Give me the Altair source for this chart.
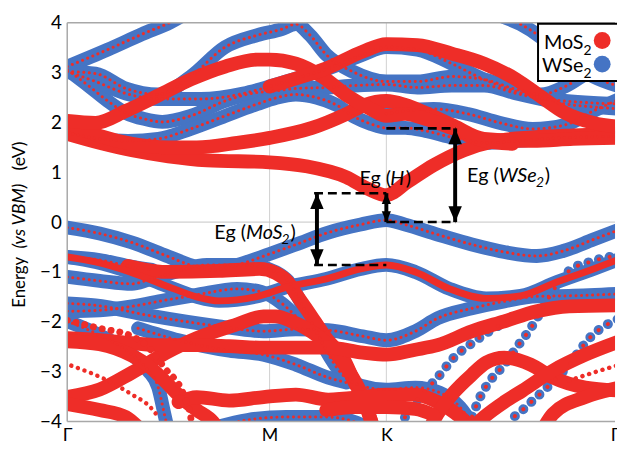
import altair as alt
import pandas as pd

RED = "#EE2D28"
BLUE = "#4574C4"
FONT = "Lato"

# k-path coordinates: Γ = 0, M = 1, K = 1.577, Γ = 2.732 (view cut at 2.707)
K_TICKS = [0.0, 1.0, 1.577, 2.707]
K_LABELS = ["Γ", "M", "K", "Γ"]
E_TICKS = [-4, -3, -2, -1, 0, 1, 2, 3, 4]
K_MAX = 2.707

# ---------------- conduction region ----------------
mos2_cb1 = [(0.00, 1.77), (0.16, 1.59), (0.32, 1.44), (0.50, 1.32), (0.69, 1.24), (1.00, 1.20), (1.18, 1.12),
            (1.38, 0.90), (1.49, 0.66), (1.577, 0.54), (1.68, 0.80), (1.81, 1.14), (1.96, 1.44), (2.11, 1.62),
            (2.30, 1.70), (2.50, 1.74), (2.73, 1.77)]
mos2_cb2 = [(0.00, 1.99), (0.16, 1.73), (0.32, 1.57), (0.50, 1.50), (0.64, 1.50), (0.84, 1.59), (1.00, 1.69),
            (1.21, 1.89), (1.38, 2.17), (1.47, 2.35), (1.577, 2.43), (1.67, 2.35), (1.77, 2.19), (1.91, 1.93),
            (2.06, 1.67), (2.30, 1.63), (2.50, 1.67), (2.73, 1.69)]
mos2_cb3 = [(0.00, 2.03), (0.14, 1.99), (0.29, 2.23), (0.45, 2.54), (0.61, 2.86), (0.78, 3.12), (0.94, 3.26),
            (1.00, 3.26), (1.13, 3.18), (1.26, 2.92), (1.39, 2.52), (1.50, 2.27), (1.577, 2.13), (1.67, 2.17),
            (1.77, 2.07), (1.91, 1.87), (2.06, 1.63), (2.20, 1.57)]
mixed_cb3b = [(1.577, 2.17), (1.67, 2.23), (1.81, 2.27), (1.98, 2.17), (2.14, 1.99), (2.30, 1.87), (2.46, 1.95),
              (2.60, 2.23), (2.73, 2.47)]
mos2_top = [(1.00, 2.72), (1.13, 2.88), (1.29, 3.10), (1.46, 3.42), (1.577, 3.57), (1.73, 3.55), (1.90, 3.38),
            (2.06, 3.18), (2.22, 2.86), (2.34, 2.52), (2.46, 2.19), (2.60, 1.99), (2.73, 1.91)]
wse2_cb1 = [(0.00, 1.79), (0.16, 1.67), (0.30, 1.63), (0.45, 1.67), (0.61, 1.87), (0.78, 2.13), (0.94, 2.37),
            (1.03, 2.49), (1.13, 2.56), (1.23, 2.50), (1.33, 2.35), (1.42, 2.11), (1.50, 1.97), (1.577, 1.89),
            (1.67, 1.89), (1.77, 1.83), (1.91, 1.69), (2.07, 1.59), (2.20, 1.62), (2.40, 1.68), (2.73, 1.72)]
wse2_u1 = [(0.00, 3.12), (0.20, 3.46), (0.37, 3.77), (0.51, 4.01), (0.64, 4.31)]
wse2_u2 = [(0.00, 3.02), (0.14, 2.98), (0.29, 2.68), (0.45, 2.56), (0.61, 2.92), (0.78, 3.51), (0.94, 3.75),
           (1.06, 3.87), (1.13, 3.97), (1.20, 3.75), (1.28, 3.36), (1.41, 3.02), (1.577, 2.82), (1.73, 2.82),
           (1.90, 2.92), (2.06, 2.86), (2.22, 2.66), (2.34, 2.56), (2.46, 2.72), (2.60, 3.06), (2.73, 3.22)]
wse2_u3 = [(0.00, 3.06), (0.11, 2.72), (0.20, 2.43), (0.29, 2.19), (0.38, 2.07), (0.47, 2.01), (0.61, 2.13),
           (0.78, 2.43), (0.94, 2.60), (1.00, 2.62), (1.13, 2.68), (1.28, 2.70), (1.42, 2.74), (1.577, 2.76),
           (1.73, 2.70), (1.90, 2.74), (2.06, 2.74), (2.22, 2.58), (2.34, 2.47), (2.46, 2.37), (2.60, 2.31),
           (2.73, 2.27)]
wse2_u4 = [(0.00, 3.02), (0.14, 2.82), (0.29, 2.58), (0.45, 2.47), (0.66, 2.47), (0.87, 2.58), (1.00, 2.72),
           (1.13, 2.88), (1.29, 3.08), (1.46, 3.36), (1.577, 3.51), (1.73, 3.46), (1.90, 3.18), (2.06, 2.86),
           (2.22, 2.62), (2.34, 2.49), (2.46, 2.43), (2.60, 2.39), (2.73, 2.37)]
wse2_u6 = [(2.01, 4.31), (2.16, 4.11), (2.24, 3.97), (2.34, 3.71), (2.45, 3.32), (2.60, 2.92), (2.73, 2.72)]

# ---------------- valence region ----------------
wse2_vb1 = [(0.00, -0.11), (0.16, -0.23), (0.32, -0.41), (0.48, -0.66), (0.64, -0.90), (0.72, -0.96),
            (0.84, -0.86), (1.00, -0.64), (1.13, -0.45), (1.29, -0.21), (1.45, -0.05), (1.577, 0.04),
            (1.67, -0.05), (1.83, -0.25), (2.00, -0.45), (2.16, -0.60), (2.32, -0.68), (2.45, -0.58),
            (2.60, -0.35), (2.73, -0.15)]
wse2_g1 = [(0.00, -0.70), (0.16, -0.76), (0.30, -0.88), (0.42, -0.96)]
mos2_vb1 = [(0.00, -0.70), (0.14, -0.80), (0.31, -1.00), (0.49, -1.28), (0.64, -1.50), (0.75, -1.58),
            (0.93, -1.50), (1.09, -1.30), (1.28, -1.14), (1.45, -0.94), (1.577, -0.86), (1.72, -1.00),
            (1.89, -1.34), (2.07, -1.53), (2.24, -1.48), (2.42, -1.20), (2.60, -0.94), (2.73, -0.74)]
mos2_vb2 = [(0.30, -0.88), (0.37, -0.94), (0.49, -1.00), (0.75, -0.98), (0.95, -0.94),
            (1.03, -1.02), (1.09, -1.20), (1.13, -1.44), (1.19, -1.79), (1.28, -2.33), (1.37, -2.78),
            (1.42, -3.22), (1.46, -3.51), (1.50, -3.97), (1.52, -4.31)]
mos2_vb3 = [(0.00, -3.51), (0.16, -3.36), (0.32, -3.02), (0.49, -2.62), (0.64, -2.33), (0.84, -2.05),
            (0.97, -1.89), (1.03, -1.89), (1.11, -1.99), (1.18, -2.13), (1.29, -2.47), (1.39, -2.98),
            (1.45, -3.42), (1.50, -3.97), (1.53, -4.31)]
wse2_vb2 = [(0.00, -1.10), (0.16, -1.18), (0.32, -1.24), (0.40, -1.16), (0.55, -0.98), (0.69, -0.86),
            (0.84, -0.86), (0.96, -0.90), (1.03, -1.00), (1.09, -1.18), (1.17, -1.73), (1.24, -2.27),
            (1.30, -2.72), (1.36, -3.06), (1.45, -3.28), (1.577, -3.36), (1.72, -3.32), (1.84, -3.42),
            (1.94, -3.71), (2.01, -4.11)]
wse2_vb3 = [(1.96, -4.31), (2.00, -3.91), (2.04, -3.51), (2.09, -3.18), (2.16, -2.86), (2.22, -2.52),
            (2.29, -2.13), (2.35, -1.73), (2.40, -1.38), (2.48, -0.98), (2.60, -0.78), (2.73, -0.66)]
wse2_vb4 = [(0.00, -1.79), (0.16, -1.77), (0.32, -1.69), (0.48, -1.57), (0.64, -1.46), (0.84, -1.34),
            (0.96, -1.40), (1.06, -1.63), (1.13, -1.89)]
mos2_vb4 = [(0.00, -2.33), (0.16, -2.37), (0.32, -2.43), (0.48, -2.47), (0.64, -2.47), (0.80, -2.49),
            (0.97, -2.52), (1.13, -2.52), (1.29, -2.52), (1.46, -2.62), (1.577, -2.66), (1.72, -2.56),
            (1.83, -2.47), (2.00, -2.19), (2.16, -1.99), (2.32, -1.79), (2.48, -1.69), (2.73, -1.67)]
mos2_vb5 = [(0.00, -2.39), (0.16, -2.45), (0.32, -2.68), (0.40, -2.88), (0.48, -3.18), (0.56, -3.51),
            (0.64, -3.77), (0.72, -4.01), (0.77, -4.31)]
wse2_vb5 = [(0.00, -1.63), (0.14, -1.67), (0.40, -1.87), (0.75, -2.09), (0.97, -2.19), (1.13, -2.15),
            (1.29, -2.17), (1.46, -2.29), (1.577, -2.37), (1.72, -2.19), (1.83, -1.93), (2.00, -1.73),
            (2.16, -1.59), (2.32, -1.49), (2.48, -1.48), (2.73, -1.44)]
wse2_vb6 = [(0.35, -2.13), (0.55, -2.37), (0.80, -2.58), (0.97, -2.66), (1.13, -2.86), (1.29, -3.12),
            (1.38, -3.22)]
mos2_vb6 = [(0.55, -3.61), (0.64, -3.51), (0.80, -3.58), (0.97, -3.51), (1.13, -3.46), (1.29, -3.56),
            (1.46, -3.51), (1.577, -3.46), (1.72, -3.46), (1.83, -3.61), (1.91, -3.81), (1.99, -4.11),
            (2.02, -4.31)]
mos2_vb7 = [(1.77, -4.31), (1.83, -3.85), (1.91, -3.42), (2.00, -3.06), (2.07, -2.82), (2.16, -2.72),
            (2.29, -2.86), (2.40, -3.12), (2.56, -3.32), (2.73, -3.38)]
mos2_vb8 = [(1.96, -4.31), (2.06, -3.91), (2.16, -3.61), (2.25, -3.38), (2.40, -2.98), (2.56, -2.66),
            (2.73, -2.39)]
mos2_vb9 = [(2.33, -4.31), (2.40, -3.85), (2.56, -3.51), (2.73, -3.32)]
wse2_vb7 = [(2.18, -4.31), (2.20, -3.97), (2.25, -3.77), (2.37, -3.32), (2.48, -2.86), (2.58, -2.33),
            (2.73, -1.93)]
wse2_vb8 = [(1.62, -4.31), (1.67, -3.91), (1.74, -3.51), (1.83, -3.12), (1.91, -2.72), (2.00, -2.43),
            (2.11, -2.13), (2.20, -1.93)]
mos2_vb10 = [(2.48, -3.18), (2.60, -3.02), (2.73, -2.86)]
wse2_vb9 = [(0.74, -4.11), (0.89, -3.97), (1.08, -3.91), (1.28, -3.91), (1.42, -4.01), (1.52, -4.21)]
mos2_vb11 = [(1.28, -3.77), (1.42, -3.71), (1.577, -3.71), (1.72, -3.75), (1.81, -3.87)]
mos2_vb12 = [(0.00, -3.65), (0.16, -3.77), (0.29, -3.91), (0.35, -4.11)]
wse2_vb10 = [(0.00, -1.99), (0.16, -2.27), (0.32, -2.66), (0.40, -2.98), (0.45, -3.32), (0.48, -3.85),
             (0.50, -4.21)]
mos2_vb13 = [(0.00, -1.97), (0.16, -2.13), (0.32, -2.29), (0.39, -2.47), (0.48, -2.92), (0.58, -3.51),
             (0.61, -3.91), (0.62, -4.21)]
mos2_vb14 = [(0.02, -2.88), (0.20, -3.18), (0.32, -3.46), (0.41, -3.71), (0.45, -3.91)]

# band name, points, drawing style
# B = WSe2 band (blue, small red dots), M = mixed (blue rim, red core), R = MoS2 band,
# bd = WSe2 dotted, rd = MoS2 dotted, rs = MoS2 small dots
BANDS = [
    ("wse2_u1", wse2_u1, "B"), ("wse2_u2", wse2_u2, "B"), ("wse2_u3", wse2_u3, "B"),
    ("wse2_u4", wse2_u4, "B"), ("wse2_u6", wse2_u6, "B"), ("wse2_cb1", wse2_cb1, "B"),
    ("mixed_cb3b", mixed_cb3b, "B"),
    ("mos2_cb1", mos2_cb1, "R"), ("mos2_cb2", mos2_cb2, "R"), ("mos2_cb3", mos2_cb3, "R"),
    ("mos2_top", mos2_top, "R"),
    ("wse2_vb1", wse2_vb1, "B"), ("wse2_g1", wse2_g1, "B"), ("mos2_vb1", mos2_vb1, "M"),
    ("mos2_vb2", mos2_vb2, "R"),
    ("mos2_vb3", mos2_vb3, "R"), ("wse2_vb2", wse2_vb2, "B"), ("wse2_vb3", wse2_vb3, "bd"),
    ("wse2_vb4", wse2_vb4, "B"), ("mos2_vb4", mos2_vb4, "R"), ("mos2_vb5", mos2_vb5, "R"),
    ("wse2_vb5", wse2_vb5, "B"), ("wse2_vb6", wse2_vb6, "B"), ("mos2_vb6", mos2_vb6, "R"),
    ("mos2_vb7", mos2_vb7, "R"), ("mos2_vb8", mos2_vb8, "R"), ("mos2_vb9", mos2_vb9, "R"),
    ("wse2_vb7", wse2_vb7, "bd"), ("wse2_vb8", wse2_vb8, "bd"), ("mos2_vb10", mos2_vb10, "rs"),
    ("wse2_vb9", wse2_vb9, "B"), ("mos2_vb11", mos2_vb11, "R"), ("mos2_vb12", mos2_vb12, "R"),
    ("wse2_vb10", wse2_vb10, "B"), ("mos2_vb13", mos2_vb13, "rd"), ("mos2_vb14", mos2_vb14, "rs"),
]

# ---------------- band-gap annotations ----------------
GAP_LINE_K = [1.22, 1.22, 1.577, 1.577]
GAP_LINE_K2 = [1.577, 1.577, 1.92, 1.92]
GAP_LINE_E = [0.58, -0.86, 0.0, 1.88]
ARROW_NAME = ["MoS2", "H", "WSe2"]
ARROW_K = [1.234, 1.577, 1.917]
ARROW_TOP = [0.58, 0.58, 1.88]
ARROW_BOT = [-0.86, 0.0, 0.0]

rows = []
for name, pts, style in BANDS:
    for i, (k, e) in enumerate(pts):
        rows.append({"band": name, "style": style, "i": i, "k": k, "E": e})
df = pd.DataFrame(rows)

xsc = alt.Scale(domain=[0, K_MAX], nice=False, zero=False)
ysc = alt.Scale(domain=[-4, 4], nice=False, zero=False)
label_expr = " : ".join(
    [f"abs(datum.value - {v}) < 0.01 ? '{l}'" for v, l in zip(K_TICKS, K_LABELS)]) + " : ''"
x_axis = alt.Axis(values=K_TICKS, labelExpr=label_expr, grid=False, ticks=False, tickSize=0, domain=False,
                  labelFlush=False, labelFont=FONT, labelFontSize=18, labelColor="black", labelPadding=5,
                  title=None)
y_axis = alt.Axis(values=E_TICKS, grid=False, ticks=False, tickSize=0, domain=False, labelFlush=False,
                  labelFont=FONT, labelFontSize=19, labelColor="black", labelPadding=6, title=None,
                  labelBaseline="middle")
X = alt.X("k:Q", scale=xsc, axis=x_axis)
Y = alt.Y("E:Q", scale=ysc, axis=y_axis)


def band_layer(styles, color, width, dash=None):
    props = dict(color=color, strokeWidth=width, interpolate="monotone", clip=True,
                 strokeCap="round", strokeJoin="round")
    if dash is not None:
        props["strokeDash"] = dash
    return (alt.Chart(df)
            .transform_filter(alt.FieldOneOfPredicate(field="style", oneOf=styles))
            .mark_line(**props)
            .encode(x=X, y=Y, detail="band:N", order="i:Q"))


# grid lines and frame
grid_df = pd.DataFrame({"k": [1.0, 1.577]})
grid = alt.Chart(grid_df).mark_rule(color="#d0d0d0", strokeWidth=1).encode(x=X)
zero_df = pd.DataFrame({"E": [0.0]})
zero = alt.Chart(zero_df).mark_rule(color="#c4c4c4", strokeWidth=1).encode(y=Y)
frame_h = alt.Chart(pd.DataFrame({"E": [-4.0, 4.0]})).mark_rule(color="#a8a8a8", strokeWidth=1.5).encode(y=Y)
frame_v = alt.Chart(pd.DataFrame({"k": [0.0]})).mark_rule(color="#a8a8a8", strokeWidth=1.5).encode(x=X)

layers = [
    grid, zero,
    band_layer(["B", "M"], BLUE, 14),
    band_layer(["bd"], BLUE, 10, [0.1, 11]),
    band_layer(["R"], RED, 14),
    band_layer(["M"], RED, 7),
    band_layer(["B"], RED, 3, [0.1, 5.5]),
    band_layer(["bd"], RED, 4, [0.1, 11]),
    band_layer(["rd"], RED, 7, [0.1, 9]),
    band_layer(["rs"], RED, 4.5, [0.1, 7]),
    frame_h, frame_v,
]

# dashed guide lines
gap_df = pd.DataFrame({"k": GAP_LINE_K, "k2": GAP_LINE_K2, "E": GAP_LINE_E})
gap_lines = alt.Chart(gap_df).mark_rule(color="black", strokeWidth=2.6, strokeDash=[9, 5]).encode(
    x=X, x2="k2:Q", y=Y)
arr_df = pd.DataFrame({"name": ARROW_NAME, "k": ARROW_K, "E": ARROW_TOP, "E2": ARROW_BOT})
shafts = alt.Chart(arr_df).mark_rule(color="black", strokeWidth=4).encode(x=X, y=Y, y2="E2:Q")
UP = "M0,-1L-0.85,1L0.85,1Z"
DOWN = "M0,1L-0.85,-1L0.85,-1Z"
big = alt.FieldOneOfPredicate(field="name", oneOf=["MoS2", "WSe2"])
small = alt.FieldEqualPredicate(field="name", equal="H")
heads_up_big = alt.Chart(arr_df).transform_filter(big).mark_point(
    shape=UP, filled=True, color="black", opacity=1, size=256, yOffset=8).encode(x=X, y=Y)
heads_dn_big = alt.Chart(arr_df).transform_filter(big).mark_point(
    shape=DOWN, filled=True, color="black", opacity=1, size=256, yOffset=-8).encode(
    x=X, y=alt.Y("E2:Q", scale=ysc, axis=y_axis))
heads_up_small = alt.Chart(arr_df).transform_filter(small).mark_point(
    shape=UP, filled=True, color="black", opacity=1, size=121, yOffset=5.5).encode(x=X, y=Y)
heads_dn_small = alt.Chart(arr_df).transform_filter(small).mark_point(
    shape=DOWN, filled=True, color="black", opacity=1, size=121, yOffset=-5.5).encode(
    x=X, y=alt.Y("E2:Q", scale=ysc, axis=y_axis))
layers += [gap_lines, shafts, heads_up_big, heads_dn_big, heads_up_small, heads_dn_small]

# band-gap labels (pieces: normal / italic / subscript)
LABEL_TEXT = ["Eg (", "MoS", "2", ")", "Eg (", "H", ")", "Eg (", "WSe", "2", ")"]
LABEL_K = [0.727, 0.883, 1.059, 1.103, 1.444, 1.596, 1.673, 1.976, 2.132, 2.316, 2.360]
LABEL_E = [-0.33, -0.33, -0.43, -0.33, 0.74, 0.74, 0.74, 0.80, 0.80, 0.70, 0.80]
LABEL_KIND = ["n", "i", "s", "n", "n", "i", "n", "n", "i", "s", "n"]
lab_df = pd.DataFrame({"t": LABEL_TEXT, "k": LABEL_K, "E": LABEL_E, "kind": LABEL_KIND})
for kind, style, size in [("n", "normal", 20), ("i", "italic", 20), ("s", "italic", 14)]:
    layers.append(alt.Chart(lab_df).transform_filter(alt.FieldEqualPredicate(field="kind", equal=kind))
                  .mark_text(font=FONT, fontSize=size, fontStyle=style, align="left",
                             baseline="alphabetic", color="black")
                  .encode(x=X, y=Y, text="t:N"))

# legend (top right, symbols after the labels)
one = pd.DataFrame({"a": [0]})
layers.append(alt.Chart(one).mark_rect(fill="white", stroke="black", strokeWidth=2).encode(
    x=alt.value(477), x2=alt.value(565), y=alt.value(1), y2=alt.value(59)))
LEG_MAIN = ["MoS", "WSe"]
LEG_COLOR = [RED, BLUE]
LEG_X = [483, 481]
LEG_SUB_X = [523, 523]
LEG_BASE = [27, 50]
LEG_DOT_Y = [18, 42]
for txt, col, lx, sx, yb, dy in zip(LEG_MAIN, LEG_COLOR, LEG_X, LEG_SUB_X, LEG_BASE, LEG_DOT_Y):
    layers.append(alt.Chart(one).mark_text(text=txt, font=FONT, fontSize=20, align="left",
                                           baseline="alphabetic", color="black").encode(
        x=alt.value(lx), y=alt.value(yb)))
    layers.append(alt.Chart(one).mark_text(text="2", font=FONT, fontSize=14, align="left",
                                           baseline="alphabetic", color="black").encode(
        x=alt.value(sx), y=alt.value(yb + 6)))
    layers.append(alt.Chart(one).mark_circle(color=col, opacity=1, size=290).encode(
        x=alt.value(542), y=alt.value(dy)))

# y-axis title with mixed styles
TITLE_TEXT = ["Energy", "(vs VBM)", "(eV)"]
TITLE_Y = [263, 196, 135]
TITLE_STYLE = ["normal", "italic", "normal"]
TITLE_SIZE = [17, 18, 18]
for t, yy, st, sz in zip(TITLE_TEXT, TITLE_Y, TITLE_STYLE, TITLE_SIZE):
    layers.append(alt.Chart(one).mark_text(text=t, font=FONT, fontSize=sz, fontStyle=st, angle=270,
                                           align="center", baseline="middle", color="black").encode(
        x=alt.value(-48), y=alt.value(yy)))

chart = alt.layer(*layers).properties(
    width=555, height=404,
    padding={"left": 60, "top": 12, "right": 2, "bottom": 26},
    autosize=alt.AutoSizeParams(type="none"),
).configure_view(stroke=None)

chart.save("out.html", embed_options={"renderer": "svg", "actions": False})
